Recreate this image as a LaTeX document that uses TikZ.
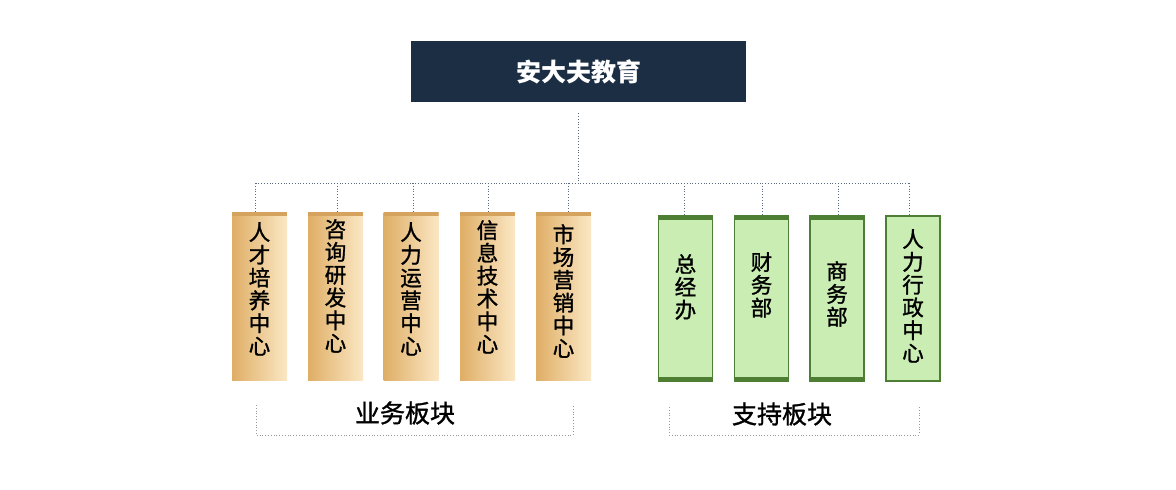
\documentclass[tikz,border=0pt]{standalone}
\usepackage{fontspec}
\newfontfamily\cjk{Noto Sans CJK SC}
\newfontfamily\cjkm[FakeBold=1.3]{Noto Sans CJK SC}
\usetikzlibrary{calc}
\definecolor{navy}{HTML}{1C2E44}
\definecolor{tanL}{HTML}{DFAE66}
\definecolor{tanR}{HTML}{FBE7C4}
\definecolor{tanTop}{HTML}{D6A35E}
\definecolor{grFill}{HTML}{C9EDB3}
\definecolor{grLine}{HTML}{4E7D34}
\definecolor{conn}{HTML}{5A6A80}
\tikzset{
  topbox/.style={fill=navy, draw=none, minimum width=335pt, minimum height=61pt, text=white, font=\cjk\bfseries\fontsize{25}{27}\selectfont},
  tanbox/.style={minimum width=55pt, minimum height=168pt, left color=tanL, right color=tanR, shading angle=90,
    path picture={\fill[tanTop] (path picture bounding box.north west) rectangle ([yshift=-4pt]path picture bounding box.north east);}},
  grbox/.style={minimum width=54pt, minimum height=165pt, fill=grFill, draw=grLine, line width=1.6pt},
  grbar/.style={grbox, path picture={\fill[grLine] (path picture bounding box.north west) rectangle ([yshift=-4pt]path picture bounding box.north east);
     \fill[grLine] (path picture bounding box.south west) rectangle ([yshift=4pt]path picture bounding box.south east);}},
  vtext/.style={align=center, font=\cjkm\fontsize{21.5}{22.8}\selectfont, text=black, inner sep=0pt},
  label/.style={font=\cjkm\fontsize{25}{27}\selectfont, text=black},
  link/.style={draw=conn, dotted, line width=0.8pt},
  brk/.style={draw=gray!80, dotted, line width=0.8pt}
}
\begin{document}
\begin{tikzpicture}[x=1pt,y=-1pt]
\useasboundingbox (0,0) rectangle (1176,490);
\node[topbox] (top) at (578.5,71.5) {安大夫教育};
% tan boxes
\node[tanbox] (t1) at (259.5,296) {};
\node[tanbox] (t2) at (335.5,296) {};
\node[tanbox] (t3) at (411,296) {};
\node[tanbox] (t4) at (487.5,296) {};
\node[tanbox] (t5) at (563.5,296) {};
\node[vtext, anchor=north] (tx1) at (259.5,222) {人\\才\\培\\养\\中\\心};
\node[vtext, anchor=north] (tx2) at (335.5,219) {咨\\询\\研\\发\\中\\心};
\node[vtext, anchor=north] (tx3) at (411,222) {人\\力\\运\\营\\中\\心};
\node[vtext, anchor=north] (tx4) at (487.5,220) {信\\息\\技\\术\\中\\心};
\node[vtext, anchor=north] (tx5) at (563.5,224) {市\\场\\营\\销\\中\\心};
% green boxes
\node[grbar] (g1) at (685.5,298.5) {};
\node[grbar] (g2) at (761.5,298.5) {};
\node[grbar] (g3) at (837,298.5) {};
\node[grbox] (g4) at (913,298.5) {};
\node[vtext, anchor=north] (gx1) at (685.5,254) {总\\经\\办};
\node[vtext, anchor=north] (gx2) at (761.5,252) {财\\务\\部};
\node[vtext, anchor=north] (gx3) at (837,261) {商\\务\\部};
\node[vtext, anchor=north] (gx4) at (913,229) {人\\力\\行\\政\\中\\心};
% connectors
\coordinate (j) at (578.5,183);
\draw[link] ([yshift=-11pt]top.south) -- (j);
\draw[link] ([xshift=-4pt]t1.north |- j) -- ([xshift=-4pt]g4.north |- j);
\foreach \n/\dx in {t1/-4,t2/1.5,t3/2,t4/0.5,t5/4.5,g1/-1.5,g2/0.5,g3/1,g4/-4}
  \draw[link] ([xshift=\dx pt]\n.north |- j) -- ([xshift=\dx pt]\n.north);
% brackets
\node[label] (lb1) at (405,413) {业务板块};
\node[label] (lb2) at (782,414) {支持板块};
\coordinate (b1a) at (256,405); \coordinate (b1b) at (573,405);
\coordinate (b2a) at (669,407); \coordinate (b2b) at (919,407);
\draw[brk] (b1a) -- ++(0,30) -| (b1b);
\draw[brk] (b2a) -- ++(0,28) -| (b2b);
\end{tikzpicture}
\end{document}
